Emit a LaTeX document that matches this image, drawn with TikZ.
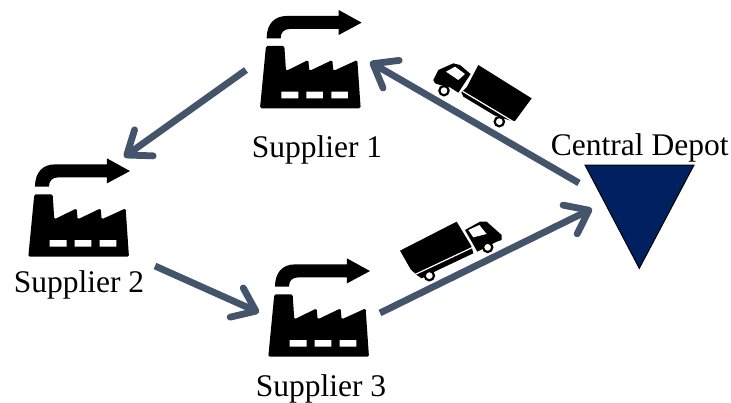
\documentclass[tikz,border=0pt]{standalone}
\usepackage{fontspec}
\setmainfont{Liberation Serif}
\usetikzlibrary{arrows.meta}
\definecolor{flow}{HTML}{44546A}
\definecolor{depot}{HTML}{002060}
\tikzset{
  lbl/.style={anchor=base,inner sep=0pt,font=\fontsize{31.5}{36}\selectfont,text=black},
  flowarrow/.style={draw=flow,line width=6.8pt,-{Straight Barb[length=21pt,width=32pt,round]}},
  tiny/.style={x=0.3333pt,y=-0.3333pt},
  factory/.pic={
    \begin{scope}[tiny]
      \fill[black,rounded corners=1.5pt] (0,0) -- (18,-187) -- (73,-187) -- (78,-112) -- (145,-145) -- (148,-112) -- (217,-145) -- (220,-112) -- (292,-145) -- (302,0) -- cycle;
      \fill[white] (64,-50) rectangle (115,-30) (139,-50) rectangle (189,-30) (214,-50) rectangle (264,-30);
      \fill[black] (20,-210) .. controls (20,-255) and (45,-277) .. (80,-277) -- (236,-277) -- (236,-295) -- (305,-257) -- (236,-220) -- (236,-238) -- (90,-238) .. controls (72,-238) and (62,-228) .. (62,-210) -- cycle;
    \end{scope}
  }
}
\begin{document}
\begin{tikzpicture}[x=1pt,y=-1pt]
\useasboundingbox (0,0) rectangle (731,402);
\fill[white] (0,0) rectangle (731,402);
\pic at (260,108.3) {factory};
\pic at (28.3,256.7) {factory};
\pic at (268.3,356.7) {factory};
\node[lbl] (s1) at (317,157) {Supplier 1};
\node[lbl] (s2) at (79,292.7) {Supplier 2};
\node[lbl] (s3) at (321,396.7) {Supplier 3};
\node[lbl] (cd) at (639.7,155.7) {Central Depot};
\fill[depot,draw=black,line width=1pt] (585,165) -- (694,165) -- (639.3,268.3) -- cycle;
\coordinate (a1s) at (579,183);
\coordinate (a1e) at (370,62);
\coordinate (a2s) at (246,70);
\coordinate (a2e) at (124,157);
\coordinate (a3s) at (155,266);
\coordinate (a3e) at (259,312.5);
\coordinate (a4s) at (380,313);
\coordinate (a4e) at (592,208.7);
\draw[flowarrow] (a1s) -- (a1e);
\draw[flowarrow] (a2s) -- (a2e);
\draw[flowarrow] (a3s) -- (a3e);
\draw[flowarrow] (a4s) -- (a4e);
% upper truck
\begin{scope}[shift={(420,50)},tiny]
  \fill[black] (175,45) -- (335,145) -- (285,213) -- (272,212) -- (225,197) -- (130,140) -- (124,128) -- (140,112) -- cycle;
  \draw[white,line width=1.2pt] (128,124) -- (282,216);
  \fill[black] (40,90) -- (55,60) -- (100,40) -- (120,45) -- (152,72) -- (115,128) -- (90,112) -- (60,105) -- (45,100) -- cycle;
  \fill[white] (78,65) -- (105,50) -- (135,72) -- (115,90) -- cycle;
  \draw[black,line width=2.2pt,fill=white] (72,122) circle (14);
  \draw[black,line width=2.2pt,fill=white] (238,215) circle (14);
\end{scope}
% lower truck
\begin{scope}[shift={(390,210)},tiny]
  \fill[black] (30,122) -- (200,35) -- (245,110) -- (250,130) -- (140,182) -- (95,205) -- (80,195) -- (62,178) -- cycle;
  \draw[white,line width=1.2pt] (72,195) -- (246,113);
  \fill[black] (225,60) -- (270,35) -- (290,35) -- (335,75) -- (335,90) -- (320,95) -- (262,125) -- cycle;
  \fill[white] (235,60) -- (268,45) -- (290,72) -- (250,82) -- cycle;
  \draw[black,line width=2.2pt,fill=white] (118,197) circle (14);
  \draw[black,line width=2.2pt,fill=white] (293,112) circle (14);
\end{scope}
\end{tikzpicture}
\end{document}
